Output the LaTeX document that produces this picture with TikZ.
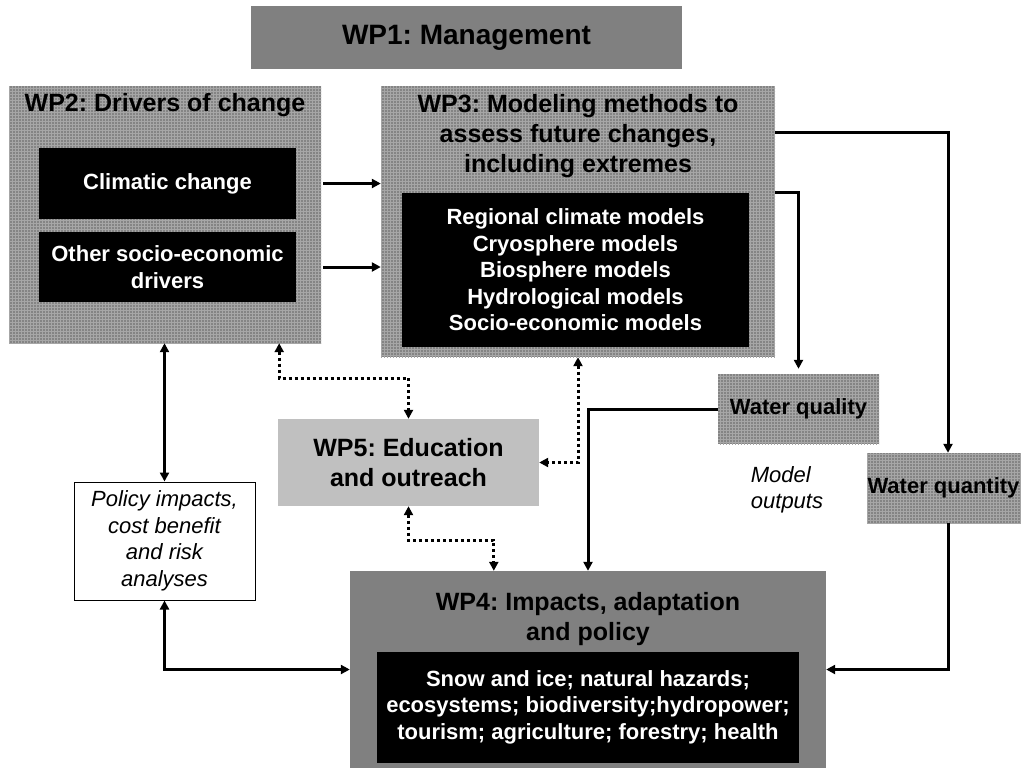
\documentclass[tikz,border=0pt]{standalone}
\usepackage{fontspec}
\setmainfont{Liberation Sans}
\usetikzlibrary{positioning,calc,arrows.meta,patterns}

\definecolor{wpgrey}{RGB}{128,128,128}
\definecolor{texgrey}{RGB}{132,132,132}
\definecolor{eduGrey}{RGB}{192,192,192}

\frenchspacing

\begin{document}
\begin{tikzpicture}[%
      x=1pt, y=-1pt,                          % pixel grid, y runs downwards
      >={Triangle[length=9pt,width=9pt]},     % Filled heads as in the slide
      ]
  \tikzset{
    base/.style={inner sep=0pt, align=center},
    pkg/.style={base, fill=wpgrey},
    tex/.style={base, fill=texgrey, postaction={pattern=grid, pattern color=gray!70}},
    blk/.style={base, fill=black, text=white, font=\fontsize{22}{26.5}\selectfont\bfseries},
    ttl/.style={base, font=\fontsize{25}{30}\selectfont\bfseries},
    note/.style={base, font=\fontsize{22}{26.5}\selectfont\itshape},
    norm/.style={->, draw, line width=3pt},
    dots/.style={<->, draw, line width=3pt, dash pattern=on 3pt off 3pt},
  }

  \useasboundingbox (0,0) rectangle (1021,769);

  % Management on top
  \node [pkg, minimum width=431pt, minimum height=63pt,
         font=\fontsize{28}{32}\selectfont\bfseries] (wp1) at (466.5,37.5) {WP1: Management};

  % Drivers of change
  \node [tex, minimum width=312pt, minimum height=257pt] (wp2)   at (165,214.5) {};
  \node [ttl]                                            (wp2t)  at (165,105)   {WP2: Drivers of change};
  \node [blk, minimum width=257pt, minimum height=71pt]  (clim)  at (167.5,183.5) {Climatic change};
  \node [blk, minimum width=257pt, minimum height=70pt]  (socio) at (167.5,267)   {Other socio-economic\\drivers};

  % Modeling methods
  \node [tex, minimum width=394pt, minimum height=271pt] (wp3)    at (578,221.5) {};
  \node [ttl]                                            (wp3t)   at (578,136)   {WP3: Modeling methods to\\assess future changes,\\including extremes};
  \node [blk, minimum width=347pt, minimum height=154pt] (models) at (575.5,270)
        {Regional climate models\\Cryosphere models\\Biosphere models\\Hydrological models\\Socio-economic models};

  % Model outputs
  \node [tex, minimum width=161pt, minimum height=70pt,
         font=\fontsize{22}{26}\selectfont\bfseries] (wq)  at (798.5,409) {Water quality};
  \node [tex, minimum width=162pt, minimum height=70pt,
         font=\fontsize{22}{26}\selectfont\bfseries] (wqn) at (948,488)   {\hspace*{-9pt}Water quantity};
  \node [note, align=left]                          (outp) at (787,490)  {Model\\outputs};

  % Education and policy
  \node [base, fill=eduGrey, minimum width=261pt, minimum height=87pt,
         font=\fontsize{25}{30}\selectfont\bfseries] (wp5) at (408.5,462.5) {WP5: Education\\and outreach};
  \node [note, draw, line width=1pt, fill=white,
         minimum width=181pt, minimum height=118pt] (pol) at (164.5,541)
        {Policy impacts,\\cost benefit\\and risk\\analyses};

  % Impacts
  \node [pkg, minimum width=476pt, minimum height=197pt] (wp4)  at (588,669.5) {};
  \node [ttl]                                            (wp4t) at (588,619)   {WP4: Impacts, adaptation\\and policy};
  \node [blk, minimum width=422pt, minimum height=111pt] (imp)  at (588,707)
        {Snow and ice; natural hazards;\\ecosystems; biodiversity;hydropower;\\tourism; agriculture; forestry; health};

  % Drivers -> models
  \draw [norm, shorten <=2pt] (wp2.east |- clim)  -- (wp3.west |- clim);
  \draw [norm, shorten <=2pt] (wp2.east |- socio) -- (wp3.west |- socio);

  % Models -> outputs -> impacts
  \draw [norm] ($(wp3.north east) + (0,47)$) -| (wqn.north);
  \draw [norm, shorten >=5pt] (models.north -| wp3.east) -| (wq.north);
  \draw [norm] (wq.west) -| (wp4.north);
  \draw [norm] (wqn.south) |- (wp4.east);

  % Policy loop
  \draw [norm, <->] (wp2.south -| pol) -- (pol.north);
  \draw [norm, <->] (pol.south) |- (wp4.west);

  % Outreach
  \draw [dots] ($(wp2.south east) + (-42,0)$) -- ++(0,35) -| (wp5.north);
  \draw [dots] (wp5.south) -- ++(0,34) -| ($(wp4.north west) + (144,0)$);
  \draw [dots] (wp3.south) |- (wp5.east);

\end{tikzpicture}
\end{document}
